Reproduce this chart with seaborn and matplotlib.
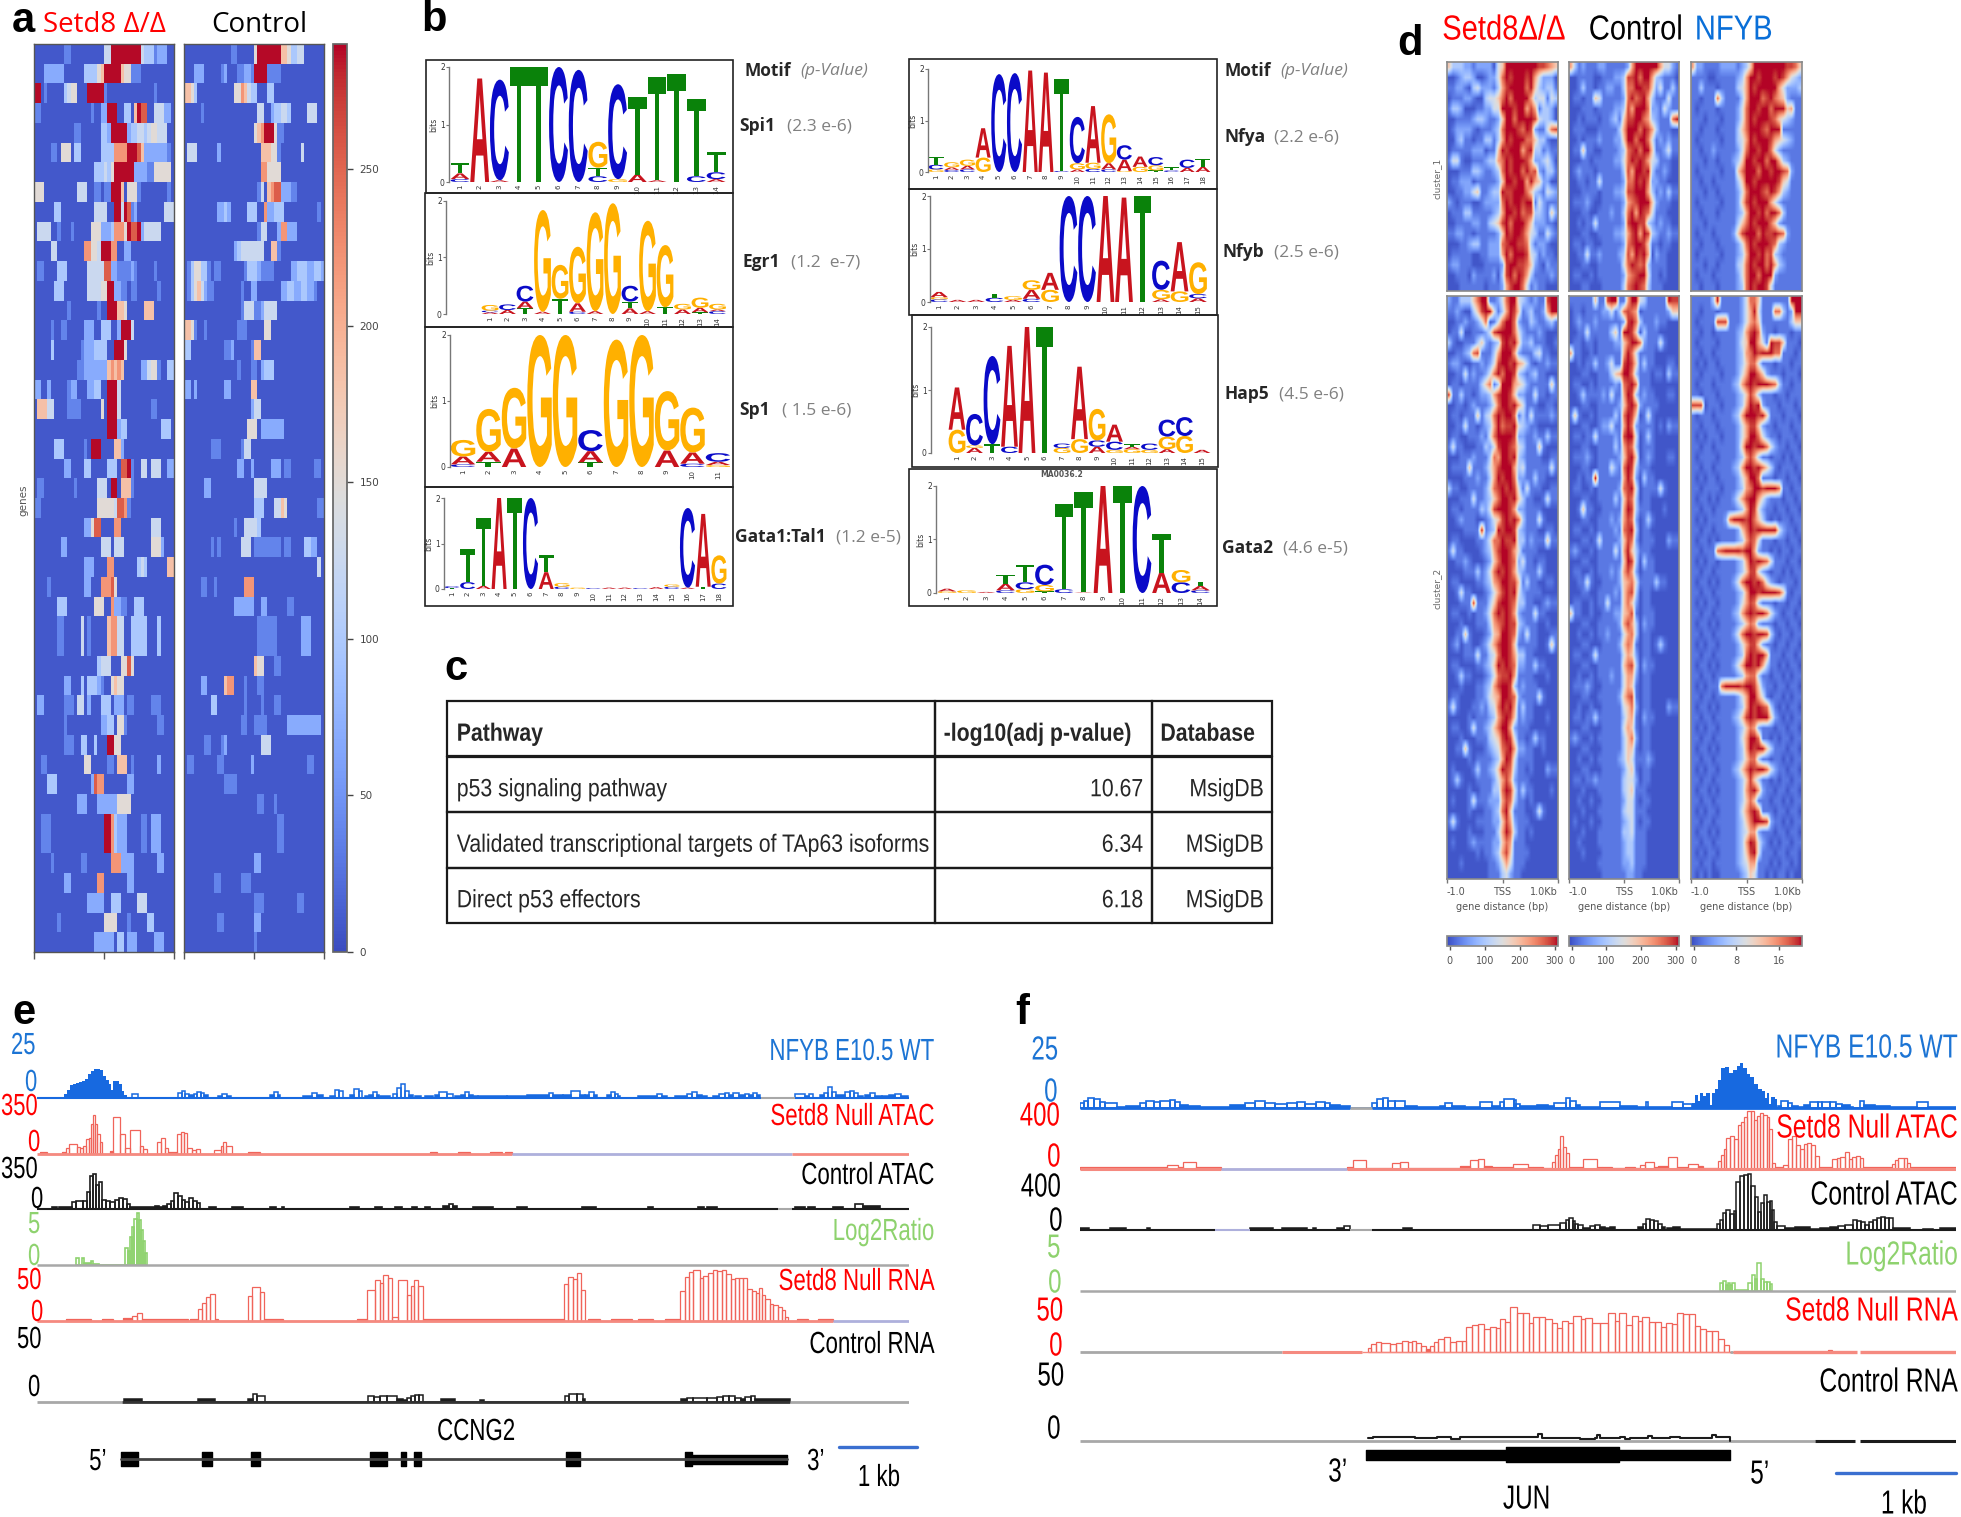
import numpy as np
import matplotlib
matplotlib.use("Agg")
import matplotlib.pyplot as plt
import seaborn as sns
from matplotlib.cm import ScalarMappable
from matplotlib.colors import Normalize
from matplotlib.font_manager import FontProperties
from matplotlib.patches import PathPatch, Rectangle
from matplotlib.patheffects import AbstractPathEffect
from matplotlib.textpath import TextPath
from matplotlib.transforms import Affine2D

# ---------- panel a: expression rows, one digit per bin (0 low .. 9 high)
setd8_rows = [
    "000000000110000000000449999999994333122200", "000222222000000333356999996551110000000000",
    "990100000345500099999100000000000000100000", "110000000000000001002299900330698800444220",
    "000000000000110000003329999923344345544400", "000001105550330000003333777799986222222210",
    "000000000000000000333435999999222211555550", "555000000000044400110119996055510000000010",
    "000000330000000000444400994981200000000444", "044440010001000005552223777598892444440000",
    "000004400000000775549997700220000000000000", "011000033300000044444882211112100000100000",
    "000000333000000044445599221101100000010000", "000000000010000000010099966500000666000000",
    "000001001100000222003330029994000000000000", "000003000000001222333300999500000000000000",
    "000000000000011222222267676000002245510033", "220020000012200022330099940000000000000000",
    "066644000011110000005099940000000001100000", "000000000000000000000099923300000000003330",
    "000000333000000109990000662000000000000000", "000000000220000330000033308891004404440022",
    "011000000000100000044409906661000000000000", "110000000000000000055555488710000000000000",
    "000000000000000225880000770000000004440000", "000000002200000000004440444000000005552000",
    "000000000000000222000077000000034300000066", "000010000000000220007778500000000000000000",
    "000000033300000000555007221100333000000000", "000000011000004010000067744003333300030000",
    "000000011000004010000067744003333300030000", "000000000000000000034440005585000000000000",
    "000000000220003033321005655000000000000000", "022000000111044020003330222011000001110000",
    "000000000100000000002233055100000000011000", "000000000111003300300099550000000000000000",
    "001100000000000550000011066601000000020000", "000033300000000002877000000022000000000000",
    "000000000000022200022222255550000000000000", "001110000000000000000997322200001102220000",
    "001110000000000000000997322200001102220000", "000001000000001100000007772222000000022000",
    "000000000220000000077000000022000000000000", "000000000000000022222003330000044400000000",
    "000000010000000000000555500010000033000000", "000000000000000000222222033022200000222000",
]
control_rows = [
    "000000000000001100000599999996653344000000", "000222000001200011221999911110000000000000",
    "665300000000000557643300033000000000000000", "000001000000000000000044002334430000044400",
    "000000000000000000000567999511000000000000", "044400000020000000000006665510000004000000",
    "000000000000000000000007755550000000000000", "000000000000000000000014067882221100000000",
    "000000000022320000033300722333000000000010", "000000000000000000000014400027722200000000",
    "000000000000000234444444006610000000000000", "013553310110000000133321111000002233322332",
    "013564211000000001002200000002233223322100", "000000000000000001444112444400000000000000",
    "665100100000000011100000550000000000000000", "330000000000112000001660000000000000000000",
    "000000000000000010001102333000000000000000", "220200000000220000006600000000000000000000",
    "000000000000000000002440000000000000000000", "000000000000000000055502222222000000000000",
    "000000001110000001440000000000000000000000", "000000000000000022002000002220110000000110",
    "000000220000000000000444400000000000000000", "000000000000000000000333000446500000000011",
    "000000000000000100444430000000000000000000", "000000001010000004440111111110110000332200",
    "000000000000000000000000000000000000000040", "000001100100000000777000000000000000000000",
    "000000000000000222222002200000011000000000", "000000000000000000000011111100000002220000",
    "000000000000000000000011111100000002220000", "000000000000000000000655000110000000000000",
    "000002200000677000100011000000000000000000", "000000003300000000100001000110000000000000",
    "000000000000000001100111100000022222222220", "000000110001200000000004440000000000000000",
    "011000000011000000002000000000000000011000", "000000000000111100000000000000000000000000",
    "000000000000000000000011000100000000000000", "000000000000000000000000000011000000000000",
    "000000000000000000000000000011000000000000", "000000000000000000000220000000000000000000",
    "000000000110000001110000000000000000000000", "000000000000000000000111000000000011000000",
    "000000000011000000000220000000000000000000", "000000000000000000000100000000000000000000",
]
level_values = [8, 38, 68, 98, 125, 150, 185, 220, 255, 288]
a_cbar_ticks = [0, 50, 100, 150, 200, 250]

# ---------- panel b: motif logos, each position is stacked bottom to top
spi1 = [[("C",.05),("A",.1),("T",.18)],[("A",1.8)],[("A",.03),("C",1.75)],[("T",2)],[("T",2)],[("C",2)],[("C",1.95)],
        [("C",.1),("T",.15),("G",.45)],[("G",.05),("C",1.65)],[("A",.13),("T",1.35)],[("A",.03),("T",1.8)],[("T",1.88)],
        [("C",.1),("T",1.35)],[("A",.05),("C",.12),("T",.35)]]
egr1 = [[("A",.03),("C",.03),("G",.1)],[("A",.07),("C",.1)],[("T",.1),("A",.12),("C",.28)],[("A",.04),("G",1.8)],
        [("T",.27),("G",.6)],[("C",.04),("A",.15),("G",1.0)],[("A",.05),("G",1.75)],[("G",1.96)],[("A",.1),("T",.12),("C",.28)],
        [("A",.05),("G",1.6)],[("T",.12),("G",1.1)],[("A",.08),("G",.1)],[("T",.03),("A",.08),("G",.18)],[("C",.05),("A",.03),("G",.1)]]
sp1 = [[("C",.04),("A",.12),("G",.25)],[("T",.08),("A",.15),("G",.65)],[("A",.28),("G",.92)],[("G",2)],[("G",2)],
       [("T",.07),("A",.17),("C",.32)],[("G",1.93)],[("G",2)],[("A",.25),("G",.9)],[("C",.05),("A",.17),("G",.68)],
       [("G",.03),("A",.05),("C",.13)]]
gata1_tal1 = [[("T",.02),("C",.04)],[("C",.15),("T",.72)],[("A",.07),("T",1.5)],[("A",2)],[("T",2)],[("C",2)],
              [("A",.37),("T",.38)],[("C",.05),("G",.08)],[("G",.03)],[("C",.02)],[("A",.03)],[("A",.03)],[("C",.02)],
              [("A",.04)],[("C",.05),("G",.05)],[("A",.03),("C",1.75)],[("T",.05),("A",1.6)],[("C",.12),("G",.62)]]
nfya = [[("G",.05),("C",.09),("T",.16)],[("C",.04),("A",.05),("G",.1)],[("C",.05),("A",.07),("G",.12)],[("G",.28),("A",.57)],
        [("C",1.9)],[("C",1.92)],[("A",1.97)],[("A",1.93)],[("C",.02),("T",1.78)],[("A",.05),("G",.12),("C",.9)],
        [("C",.06),("G",.12),("A",1.1)],[("C",.05),("A",.12),("G",.95)],[("G",.02),("A",.22),("C",.28)],[("G",.1),("A",.2)],
        [("T",.03),("G",.1),("C",.16)],[("C",.03),("T",.06)],[("A",.08),("C",.16)],[("A",.1),("T",.16)]]
nfyb = [[("C",.05),("G",.04),("A",.1)],[("A",.04)],[("A",.04)],[("C",.08),("T",.08)],[("A",.04),("G",.07)],
        [("C",.06),("A",.17),("G",.18)],[("G",.23),("A",.32)],[("C",2)],[("C",2)],[("A",2)],[("A",1.97)],[("T",2)],
        [("A",.05),("G",.18),("C",.55)],[("G",.2),("A",.93)],[("A",.07),("C",.08),("G",.6)]]
hap5 = [[("G",.37),("A",.67)],[("A",.08),("G",.04),("C",.5)],[("T",.14),("C",1.4)],[("C",.1),("A",1.6)],[("A",2)],[("T",2)],
        [("G",.08),("C",.07)],[("G",.22),("A",1.15)],[("A",.1),("C",.1),("G",.5)],[("G",.05),("C",.13),("A",.27)],
        [("G",.06),("A",.04),("T",.04)],[("G",.05),("C",.1)],[("A",.06),("G",.2),("C",.27)],[("G",.27),("C",.3)],[("A",.05)]]
gata2 = [[("G",.03),("A",.05)],[("G",.05)],[("A",.02)],[("C",.05),("A",.12),("T",.17)],[("G",.07),("C",.13),("T",.33)],
         [("T",.03),("G",.12),("C",.38)],[("C",.07),("T",1.6)],[("A",.01),("T",1.88)],[("A",2)],[("T",2)],[("C",2)],
         [("A",.38),("T",.72)],[("C",.2),("G",.23)],[("C",.05),("A",.08),("T",.08)]]
motif_names = ["Spi1", "Egr1", "Sp1", "Gata1:Tal1", "Nfya", "Nfyb", "Hap5", "Gata2"]
motif_pvals = ["(2.3 e-6)", "(1.2  e-7)", "( 1.5 e-6)", "(1.2 e-5)", "(2.2 e-6)", "(2.5 e-6)", "(4.5 e-6)", "(4.6 e-5)"]

# ---------- panel c
table_header = ["Pathway", "-log10(adj p-value)", "Database"]
table_pathways = ["p53 signaling pathway", "Validated transcriptional targets of TAp63 isoforms", "Direct p53 effectors"]
table_scores = ["10.67", "6.34", "6.18"]
table_dbs = ["MsigDB", "MSigDB", "MSigDB"]

# ---------- panel d: TSS signal rows, one digit per bin (0 low .. 9 high)
d_setd8 = [
    "533322122220459999999988765", "001233200122479899989642220", "112210342221368999979532331", "011122100344579799996344143",
    "133200011224499989968613320", "001111233211259979999843320", "012222101112379998798211478", "002311011331369899977533100",
    "011111222011598999689331211", "144100111233679899986223420", "000111332112379899797821331", "011222011111259989969652200",
    "001122451123398899975321432", "210111001222279899899142111", "011133111112369989788332152", "001111221134589799975222110",
    "112211011111259899864311421", "000112331122278998873122100", "011111001122269799984312110", "122111000111128998875210211",
    "001110211112038979863111121", "000111111011126899741211000",
]
d_setd8_lower = [
    "211333579911247994321211899", "112100358994136985123112699", "001121124701479972113211231", "011400111248999974211121000",
    "310011135212389895223111001", "001123781113699962111341100", "122100112124899896531011211", "001141211247979983212311000",
    "011011113571399965421111151", "811311012236899852211411011", "001101211124799896411100110", "011011151347989971314111121",
    "001141101236978894321100000", "011001112147999982211211311", "141100011324899874311151000", "000111211137699893211110011",
    "011115111246899963411111141", "000011121136989972211311000", "311001111247898984141110011", "000111411235799895311001411",
    "011011113248999862211110000", "001211100124589897311141000", "000011119123989983211100110", "011000011247798893312111511",
    "141100001236899864111100000", "001121000125799872411011000", "000011131247989863211131000", "011000011236799885131100110",
    "001411000124689894211110000", "000111811135899873311001211", "011001011247989862111411000", "000100011136789883211100100",
    "001151000125699872141100011", "012011001246899851111100151", "000011141134799863311000000", "011000011235989872211311000",
    "001311000124788961111000100", "000100011236899831211100000", "011000011245699872111141000", "141000112134798961311000000",
    "000001011123689851211000100", "011001411235799621110000000", "000100011134589841101311000", "001151000123478962211001000",
    "000001011112369841111000000", "010000131123598731101000211", "013100011112468621110000000", "000001001113379841311000010",
    "010001411122268731101000000", "000001000112379511100141000", "141000011112258621110000000", "000001000111369731101000000",
    "010001211112257611100000000", "000000010112368511110000000", "000100000011246411100000000", "000000000011134211000000000",
]
d_control = [
    "631211122111112699999964421", "001111001112238897996321110", "001311011221137799885241131", "011011541111127978963111411",
    "000111011112238699972214211", "001011101123158899763211179", "011100011111369997986311100", "001011121112259979974121211",
    "011511001111237897995112411", "000110111112247989864311100", "012111011111138699893112100", "001101141111127798972211000",
    "000111101112238899963121311", "011121001111126789995211100", "000110011121137969874111000", "001011411111128998832121100",
    "000110011112236896983211211", "011011001111127899851101100", "001141121111238698960211000", "000110011111147987831111000",
    "011001011111126789941101000", "000110001111137898731110000",
]
d_control_lower = [
    "111111511899116994311111988", "011011112241378760111111255", "012111211111128973111211000", "001141111135199850311100000",
    "011011011112257997211141000", "611001011111169741111000000", "001011311241189851311000110", "000110011135699731110110311",
    "011001011112178971110000000", "001311112141169831211000110", "000110011111258972111100000", "151001011113179850141000000",
    "000110012241169721111010211", "011011411112189940131000000", "000110011113168730111000000", "011121011111258950121000110",
    "000110011142179831110000000", "001011911111169720311000000", "011001011111278940111141000", "000110011113158730110000000",
    "001511001111169831110001000", "000110011121268720131000000", "011001011112178930110000000", "000110141111258720111000211",
    "121001011114169531110000000", "000110011111159830311000000", "011001011121268620111000000", "001141001111256741111311000",
    "000110011112157830110000000", "011001011411157520110000000", "511001001112256810111000000", "000110011111268630211000000",
    "001001011211146730110000000", "000110001111257610110131000", "011001411111146520110000000", "000110011111157830211000000",
    "001001011121146620110000000", "011121001111146510110000000", "000110011111257810110000000", "001001001111145720110000211",
    "011011311111135610211000000", "000110001111146510110000000", "121001011111135720110000000", "000110001111135510110000000",
    "001001011111235411121000000", "000110001111124510110000000", "011011211111134420110000000", "000100011111134511100000000",
    "001001001111124410110000000", "000100011111134411100000000", "010001001111123410110000000", "000100011111133411100000000",
    "001000011111123311100000000", "000100001111123311100000000", "000000011111122311100000000", "000000001111112211000000000",
]
d_nfyb = [
    "622111122221235999999998875", "111100111112369989998986432", "113111011113469899999642223", "110111731111369997897652111",
    "101111011112479989979995611", "111011101112479899987543211", "110111011113579998799911111", "101111101113469899986543211",
    "110112111112479989974211111", "111011011123599899799632111", "101111101115799979989987211", "110110111113599899999854111",
    "111011011112479998798632111", "101111101112589899964211111", "110111011112369989799731111", "111011111113579899975211111",
    "101110111125899979889872111", "110111011112479899987321111", "101111101112369989783211111", "111011011113479899796321111",
    "101110111112479979992111111", "110111011112379899841111111",
]
d_nfyb_lower = [
    "111113911111247751111111999", "110111011111246941117731299", "101111888111246751111111355", "110110111112368972110111011",
    "101111011112459964198851110", "110110111112367989997711101", "101011011112357741110111011", "110111101112469975211101110",
    "101110111123689899987311011", "110111011112358631110110111", "888011101112369892111011101", "101110111123699989511101110",
    "110111011112468852110111011", "101011101112469974211011101", "110110111112599899742110110", "101111011112368631101101011",
    "110110111123699897531011101", "101011011112469971110110110", "110111101112367998999711011", "101101011124689964211101101",
    "110110111112369842110110110", "101011112799989753101011011", "110110111112579899999421101", "101101011112368741110110110",
    "110111789999899621101011011", "101011011112369898741110110", "110110111112358842101101011", "101101011124799897421011101",
    "110110111112369989999851011", "101011011112468731110110110", "110110111123689899742101101", "101101011112357621110110110",
    "110110111124799899831011011", "101011011112468852110110110", "110110111112379899611101101", "101101011124699896311010110",
    "110110111112367731101101011", "101011179999899852110110110", "110110111112469964101101011", "101101011112369898731010110",
    "110110111123589899952101011", "101011011112357621110110110", "110110111112469971101011011", "101101011112369899531110110",
    "110110111112357731101101011", "101011011123579899742110110", "110110111112358531101011011", "101101011112368962110110110",
    "110110111112357511101101011", "101011011112468971110110110", "110110111112357999821101011", "101101011112346621110110110",
    "110110111112369842101011011", "101011011112358941110110110", "110110111112346611101011010", "101010011111235411010110100",
]
d_levels = [0.0, 0.08, 0.2, 0.33, 0.45, 0.6, 0.72, 0.84, 0.93, 1.0]
d_titles = ["Setd8\u0394/\u0394", "Control", "NFYB"]

# ---------- panel e: browser tracks, (bin, height) steps; height 0 closes a block
e_nfyb_peak = [(27,4),(30,8),(33,13),(36,14),(39,15),(42,16),(45,17),(48,19),(51,24),(54,27),(57,29),(60,29),(63,28),(66,22),
               (69,18),(72,14),(74,8),(76,17),(79,17),(82,14),(85,7),(87,3),(90,0)]
e_nfyb = [(95,4),(101,0),(141,5),(145,7),(148,4),(152,3),(157,4),(160,6),(164,5),(167,3),(171,0),(181,2),(185,4),(190,2),(194,0),
          (233,3),(237,6),(241,3),(243,0),(266,2),(275,5),(280,3),(286,0),(293,2),(298,8),(302,7),(306,0),(313,3),(317,9),(322,7),
          (325,0),(328,2),(332,3),(336,6),(340,3),(342,0),(343,2),(353,0),(356,4),(360,10),(364,14),(368,7),(372,3),(376,0),(378,2),
          (384,0),(388,2),(396,0),(398,3),(402,6),(410,4),(416,0),(418,2),(424,3),(428,6),(432,3),(436,2),(441,2),(470,2),(490,3),
          (512,5),(516,3),(526,3),(534,7),(543,3),(548,3),(552,6),(557,3),(560,0),(570,3),(574,6),(578,4),(581,2),(583,0),(601,2),
          (620,4),(625,2),(630,0),(638,2),(650,4),(655,6),(660,3),(665,2),(670,0),(676,2),(682,4),(688,5),(692,3),(696,5),(702,3),
          (708,4),(712,3),(716,5),(720,3),(723,0),(758,4),(768,2),(772,4),(776,0),(783,3),(787,5),(791,11),(795,6),(799,3),(808,6),
          (813,7),(817,5),(821,2),(826,0),(828,3),(833,5),(838,2),(845,2),(852,3),(858,4),(864,2),(871,0)]
e_atac = [(3,2),(10,0),(25,2),(29,6),(32,10),(40,7),(43,6),(46,8),(49,15),(52,16),(54,30),(56,39),(58,30),(60,20),(63,12),(65,0),
          (73,3),(76,37),(83,20),(88,6),(93,24),(103,8),(106,5),(110,0),(120,12),(124,16),(128,6),(131,2),(140,20),(144,22),(147,21),
          (150,6),(155,4),(159,5),(163,0),(177,4),(184,8),(186,12),(189,8),(195,0),(211,2),(223,0),(393,2),(400,0),(421,2),(433,0),
          (453,2),(465,0),(468,2),(475,0)]
e_ctrl_atac = [(15,2),(20,0),(22,2),(35,7),(39,8),(46,8),(50,17),(53,33),(56,35),(59,24),(62,27),(65,9),(69,8),(73,7),(78,9),(82,11),
               (86,10),(90,5),(93,2),(118,3),(122,2),(126,3),(130,5),(134,8),(137,16),(141,13),(145,9),(148,7),(152,11),(156,8),(160,6),
               (163,0),(172,2),(179,0),(195,2),(206,0),(233,2),(239,0),(245,2),(247,0),(313,2),(322,0),(338,2),(345,0),(358,2),(365,0),
               (375,2),(380,0),(388,2),(393,0),(406,3),(412,5),(416,3),(420,0),(436,2),(456,0),(480,2),(490,0),(545,2),(559,0),(611,2),
               (616,0),(661,2),(667,0),(670,2),(680,0),(758,2),(768,0),(771,2),(778,0),(796,2),(806,0),(818,5),(826,3),(843,0)]
e_log2 = [(39,7),(42,0),(45,7),(47,2),(54,4),(56,1),(62,0),(88,17),(91,14),(93,28),(95,38),(97,46),(100,52),(102,45),(104,35),
          (106,24),(108,12),(110,0)]
e_rna = [(29,2),(54,0),(65,2),(76,0),(86,3),(95,5),(100,8),(105,2),(151,0),(153,2),(161,12),(165,18),(169,24),(173,27),(178,2),(181,0),
         (211,25),(215,34),(223,29),(227,2),(246,0),(320,2),(330,31),(338,41),(343,38),(346,46),(351,43),(355,4),(361,41),(370,26),(374,35),
         (377,41),(381,35),(386,2),(463,2),(480,2),(527,37),(531,44),(536,42),(540,48),(544,31),(548,0),(551,2),(563,0),(574,2),(595,0),
         (601,2),(616,0),(628,2),(643,30),(648,44),(652,49),(656,51),(663,43),(666,45),(671,48),(676,51),(680,50),(685,51),(689,47),(694,42),
         (698,43),(702,43),(706,43),(710,32),(715,30),(719,28),(722,33),(725,26),(728,22),(733,17),(736,16),(741,14),(745,11),(748,4),
         (751,0),(760,2),(771,0),(781,2),(796,0)]
e_ctrl_rna = [(87,3),(105,0),(161,3),(178,0),(211,3),(216,8),(220,6),(228,0),(331,6),(337,5),(343,6),(350,6),(360,3),(366,2),(370,4),
              (374,6),(378,7),(382,7),(386,0),(404,3),(418,0),(443,2),(447,0),(528,6),(532,8),(540,8),(546,3),(548,0),(644,3),(650,4),
              (656,4),(670,4),(680,5),(686,6),(692,6),(698,4),(704,3),(708,5),(714,6),(718,3),(753,0)]
e_exon_start = [84, 165, 214, 333, 364, 377, 529, 648]
e_exon_end = [101, 175, 223, 350, 369, 384, 543, 655]
e_utr = (655, 750)
e_scale_names = ["25", "0", "350", "0", "350", "0", "5", "0", "50", "0", "50", "0"]
f_scale_names = ["25", "0", "400", "0", "400", "0", "5", "0", "50", "0", "50", "0"]
track_names = ["NFYB E10.5 WT", "Setd8 Null ATAC", "Control ATAC", "Log2Ratio", "Setd8 Null RNA", "Control RNA"]

# ---------- panel f
f_nfyb_peak = [(612,5),(615,13),(618,7),(620,15),(623,12),(626,15),(630,3),(632,15),(635,19),(638,28),(641,40),(645,41),(649,35),(653,38),
               (657,42),(660,45),(663,40),(667,34),(670,31),(674,24),(678,19),(682,17),(685,10),(687,15),(689,4),(691,11),(695,9),(697,0)]
f_nfyb = [(0,5),(4,7),(8,10),(14,9),(20,6),(25,5),(37,1),(46,2),(60,5),(66,7),(74,6),(80,7),(90,8),(95,6),(100,3),(108,2),(120,1),(150,3),
          (165,5),(175,7),(185,5),(195,4),(207,5),(217,6),(225,4),(236,6),(245,5),(250,3),(260,2),(270,0),(292,5),(297,9),(303,10),(308,7),
          (315,7),(325,2),(337,1),(360,2),(365,5),(372,2),(385,1),(400,6),(412,2),(420,6),(424,9),(434,8),(436,4),(440,2),(457,3),(468,2),
          (474,5),(486,10),(490,7),(496,3),(500,1),(520,6),(540,2),(557,1),(566,6),(568,1),(592,6),(603,4),(612,0),(698,2),(701,7),(708,5),
          (712,2),(718,1),(724,3),(730,6),(738,6),(742,6),(750,6),(756,4),(762,3),(770,1),(773,0),(780,7),(784,3),(795,2),(810,1),(837,6),
          (848,1),(876,0)]
f_atac = [(0,2),(87,4),(98,2),(103,7),(116,2),(141,0),(267,2),(273,9),(286,1),(312,6),(320,7),(328,1),(380,3),(390,9),(398,10),(404,3),(412,2),
          (433,5),(448,2),(453,2),(463,1),(472,7),(475,14),(478,20),(480,33),(483,22),(486,16),(489,2),(503,10),(517,2),(522,2),(532,1),(545,2),
          (555,1),(560,4),(565,7),(574,2),(578,3),(588,12),(597,2),(608,5),(618,3),(623,1),(638,8),(641,14),(644,20),(646,31),(650,33),(654,30),
          (658,44),(661,47),(664,52),(667,58),(671,58),(674,49),(677,53),(680,56),(683,54),(687,52),(689,40),(692,6),(695,2),(703,4),(708,30),
          (712,33),(716,24),(720,20),(724,25),(727,26),(731,24),(735,13),(739,2),(752,10),(757,11),(760,12),(765,17),(769,10),(772,12),(776,13),
          (780,11),(783,2),(812,5),(815,9),(818,11),(824,11),(827,6),(830,2),(876,0)]
f_ctrl_atac = [(0,2),(9,0),(30,2),(46,0),(67,2),(70,0),(170,2),(193,0),(202,2),(227,0),(233,2),(236,0),(257,2),(264,4),(270,0),(323,2),(332,0),
               (380,0),(453,5),(460,4),(468,5),(480,7),(486,10),(489,12),(493,9),(495,6),(498,5),(503,2),(510,4),(515,5),(520,3),(525,2),(530,3),
               (535,0),(558,3),(563,6),(566,11),(570,10),(574,9),(578,6),(582,3),(585,0),(587,2),(593,3),(600,1),(637,6),(640,10),(643,17),(646,20),
               (650,16),(654,19),(656,48),(660,54),(664,55),(668,56),(671,44),(675,33),(678,18),(681,27),(684,35),(687,28),(690,29),(692,20),(694,8),
               (697,4),(705,2),(715,3),(730,1),(740,2),(750,3),(758,4),(765,5),(773,10),(777,9),(781,8),(785,5),(789,8),(793,10),(797,12),(801,13),
               (805,12),(809,12),(813,2),(830,0),(843,1),(853,0),(860,2),(877,0)]
f_log2 = [(640,8),(643,10),(646,6),(648,8),(650,6),(652,8),(655,1),(668,8),(672,16),(675,12),(677,28),(681,12),(684,9),(687,9),(690,7),(692,0)]
f_rna = [(288,4),(291,8),(296,10),(301,9),(310,8),(316,9),(322,11),(328,10),(332,11),(336,9),(341,6),(346,3),(350,6),(354,10),(358,13),(364,15),
         (370,10),(376,11),(382,11),(386,25),(392,27),(398,28),(404,23),(410,25),(416,24),(420,33),(425,30),(430,45),(437,39),(443,39),(449,29),
         (453,35),(459,35),(465,33),(472,29),(477,24),(482,31),(488,29),(493,36),(501,33),(505,34),(512,29),(520,29),(528,39),(535,31),(539,39),
         (546,27),(552,36),(558,31),(562,35),(569,30),(575,30),(581,25),(586,29),(592,28),(597,39),(603,38),(609,38),(615,26),(620,23),(626,21),
         (632,21),(638,13),(644,7),(649,0),(748,2),(752,0)]
f_ctrl_rna = [(288,3),(293,4),(335,3),(357,4),(371,2),(380,4),(457,4),(458,7),(462,3),(500,2),(515,3),(517,6),(520,3),(540,4),(545,2),(550,3),
              (562,3),(568,5),(572,3),(590,4),(600,3),(625,3),(632,6),(636,4),(650,0)]
f_cds = (286, 650)
f_utr = (426, 539)

sns.set_theme(style="white")
plt.rcParams["font.family"] = ["Open Sans", "DejaVu Sans"]
SANS = ["Liberation Sans", "DejaVu Sans"]

W, H = 1961, 1517
fig = plt.figure(figsize=(W / 100, H / 100), dpi=100, facecolor="white")


def px_axes(x0, y0, x1, y1):
    # axes from reference pixel box
    return fig.add_axes([x0 / W, 1 - y1 / H, (x1 - x0) / W, (y1 - y0) / H])


class Squeeze(AbstractPathEffect):
    # no condensed font is installed, so narrow the glyphs when they are drawn
    def __init__(self, sx, anchor=0.0, dy=0.0):
        super().__init__()
        self.sx, self.anchor, self.dy = sx, anchor, dy

    def draw_path(self, renderer, gc, tpath, affine, rgbFace=None):
        shift = (1 - self.sx) * self.anchor * tpath.get_extents().x1
        a = Affine2D().scale(self.sx, 1).translate(shift, 0) + affine + Affine2D().translate(0, self.dy)
        renderer.draw_path(gc, tpath, a, rgbFace)


page = px_axes(0, 0, W, H)
page.set_xlim(0, W)
page.set_ylim(H, 0)
page.axis("off")
page.set_zorder(10)
page.patch.set_alpha(0)


def ntext(x, y, s, size, color="black", ha="center", sx=0.73):
    t = page.text(x, y, s, color=color, fontsize=size, family=SANS, ha=ha, va="center")
    t.set_path_effects([Squeeze(sx, {"left": 0, "center": 0.5, "right": 1}[ha])])
    return t


for label, x, y in [("a", 12, 21), ("b", 421, 20), ("c", 444, 669), ("d", 1397, 44), ("e", 12, 1013), ("f", 1015, 1013)]:
    page.text(x, y, label, fontsize=30, fontweight="bold", family="Liberation Sans", va="center", color="black")

# ---------- panel a
def to_matrix(rows, width):
    return np.array([[level_values[int(c)] for c in r.ljust(width, "0")[:width]] for r in rows])


a_boxes = [(34, 174, setd8_rows), (184, 324, control_rows)]
for x0, x1, rows in a_boxes:
    ax = px_axes(x0, 44, x1, 952)
    sns.heatmap(to_matrix(rows, 42), cmap="coolwarm", vmin=0, vmax=290, cbar=False, ax=ax,
                xticklabels=False, yticklabels=False)
    for s in ax.spines.values():
        s.set_visible(True)
        s.set_color("#555555")
        s.set_linewidth(1)
    ax.set_xticks([0, 21, 42])
    ax.tick_params(axis="x", length=5, width=1, color="#555555", bottom=True, labelbottom=False)
cax = px_axes(333, 44, 347, 952)
cb = fig.colorbar(ScalarMappable(Normalize(0, 290), "coolwarm"), cax=cax)
cb.set_ticks(a_cbar_ticks)
cb.ax.tick_params(labelsize=7.5, length=4, width=1, colors="#444444", pad=5)
for lab in cb.ax.get_yticklabels():
    lab.set_family("DejaVu Sans")
cb.outline.set_edgecolor("#666666")
page.text(104, 25, "Setd8 \u0394/\u0394", color="red", fontsize=20, ha="center", va="center")
page.text(259, 25, "Control", color="black", fontsize=20, ha="center", va="center")
page.text(23, 500, "genes", rotation=90, color="#555555", fontsize=7.5, family="DejaVu Sans", ha="center", va="center")

# ---------- panel b
LETTER_COLORS = {"A": "#c8141e", "C": "#0a0ac8", "G": "#ffb000", "T": "#0a820a"}
logo_font = FontProperties(family="Liberation Sans", weight="bold")


def draw_logo(ax, positions):
    for i, stack in enumerate(positions, start=1):
        bottom = 0
        for letter, height in stack:
            tp = TextPath((0, 0), letter, size=1, prop=logo_font)
            bb = tp.get_extents()
            tr = Affine2D().translate(-bb.x0, -bb.y0).scale(0.96 / bb.width, height / bb.height).translate(i - 0.48, bottom)
            ax.add_patch(PathPatch(tp, transform=tr + ax.transData, color=LETTER_COLORS[letter], lw=0))
            bottom += height


# box, y2 row, y0 row, axis x, first position x, position spacing
logo_layout = [
    (spi1, (426, 60, 733, 193), 67, 182, 449, 460, 19.7),
    (egr1, (425, 193, 733, 327), 201, 314, 446, 490, 17.5),
    (sp1, (425, 327, 733, 487), 335, 467, 450, 463, 25.5),
    (gata1_tal1, (425, 487, 733, 606), 498, 589, 444, 452, 15.7),
    (nfya, (909, 59, 1217, 189), 69, 172, 928, 936, 15.7),
    (nfyb, (909, 189, 1217, 315), 196, 302, 930, 939, 18.5),
    (hap5, (912, 315, 1218, 467), 327, 453, 931, 957, 17.5),
    (gata2, (909, 469, 1217, 606), 486, 593, 936, 947, 19.5),
]
for motif, (bx0, by0, bx1, by1), y2, y0, ax_x, first, step in logo_layout:
    page.add_patch(Rectangle((bx0, by0), bx1 - bx0, by1 - by0, fill=False, edgecolor="#222222", lw=1.2))
    ax = px_axes(ax_x, y2, bx1 - 3, y0)
    ax.patch.set_alpha(0)
    ax.set_xlim(1 - (first - ax_x) / step, 1 + (bx1 - 3 - first) / step)
    ax.set_ylim(0, 2)
    draw_logo(ax, motif)
    sns.despine(ax=ax, bottom=True)
    ax.spines["left"].set_color("#777777")
    ax.spines["left"].set_linewidth(1)
    ax.set_yticks([0, 1, 2])
    ax.set_xticks(range(1, len(motif) + 1))
    ax.set_xticklabels(range(1, len(motif) + 1), rotation=90, family="DejaVu Sans", fontsize=5, color="#333333")
    ax.tick_params(axis="x", length=0, pad=2)
    ax.tick_params(axis="y", length=2, width=0.8, color="#777777", left=True, labelsize=5.5, pad=1, labelcolor="#333333")
    for lab in ax.get_yticklabels():
        lab.set_family("DejaVu Sans")
    ax.set_ylabel("bits", fontsize=5.5, family="DejaVu Sans", color="#333333", labelpad=1)

page.text(1062, 474, "MA0036.2", fontsize=5.5, fontweight="bold", color="#555555", family="DejaVu Sans", ha="center", va="center")
label_xy = [(739, 126, 787), (742, 262, 791), (739, 410, 782), (735, 537, 836),
            (1224, 137, 1274), (1222, 252, 1274), (1224, 394, 1279), (1222, 548, 1283)]
for name, pval, (x, y, xp) in zip(motif_names, motif_pvals, label_xy):
    page.text(x, y, name, fontsize=12.5, fontweight="bold", va="center")
    page.text(xp, y, pval, fontsize=12.5, color="#808080", va="center")
for x, xp in [(744, 800), (1224, 1280)]:
    page.text(x, 71, "Motif", fontsize=12.5, fontweight="bold", va="center")
    page.text(xp, 71, "(p-Value)", fontsize=12.5, color="#808080", style="italic", va="center")

# ---------- panel c
ax = px_axes(447, 701, 1272, 923)
ax.axis("off")
cells = [[p, s, d] for p, s, d in zip(table_pathways, table_scores, table_dbs)]
tbl = ax.table(cellText=cells, colLabels=table_header, colWidths=[488 / 825, 217 / 825, 120 / 825], bbox=[0, 0, 1, 1])
tbl.auto_set_font_size(False)
for (r, c), cell in tbl.get_celld().items():
    cell.set_linewidth(1.6)
    cell.set_facecolor("none")
    cell.PAD = [0.02, 0.04, 0.07][c]
    txt = cell.get_text()
    txt.set_family(SANS)
    txt.set_fontsize(18)
    if r == 0:
        txt.set_fontweight("bold")
    left = r == 0 or c == 0
    txt.set_ha("left" if left else "right")
    txt.set_path_effects([Squeeze(0.85, 0 if left else 1, dy=-5)])

# ---------- panel d
d_panels = [
    (1447, 1558, d_setd8, d_setd8_lower, 310, -8, [0, 100, 200, 300]),
    (1569, 1679, d_control, d_control_lower, 310, -8, [0, 100, 200, 300]),
    (1691, 1802, d_nfyb, d_nfyb_lower, 20.3, -0.5, [0, 8, 16]),
]
title_x = [1504, 1636, 1734]
title_col = ["red", "black", "#0a6fd8"]
for i, (x0, x1, upper, lower, vmax, vmin, ticks) in enumerate(d_panels):
    for rows, y0, y1 in [(upper, 62, 291), (lower, 296, 879)]:
        mat = np.array([[d_levels[int(c)] * vmax for c in r] for r in rows])
        ax = px_axes(x0, y0, x1, y1)
        ax.imshow(mat, aspect="auto", cmap="coolwarm", vmin=vmin, vmax=vmax, interpolation="bilinear",
                  extent=(-1, 1, len(rows), 0))
        for s in ax.spines.values():
            s.set_visible(True)
            s.set_color("#8a8a8a")
            s.set_linewidth(1.2)
        ax.set_yticks([])
        ax.set_xticks([])
    ax.set_xticks([-1, 0, 1])
    ax.set_xticklabels(["-1.0", "TSS", "1.0Kb"], fontsize=7, family="DejaVu Sans", color="#555555")
    ax.get_xticklabels()[0].set_ha("left")
    ax.get_xticklabels()[2].set_ha("right")
    ax.tick_params(axis="x", length=3, width=1, color="#777777", bottom=True, pad=3)
    ax.set_xlabel("gene distance (bp)", fontsize=7, family="DejaVu Sans", color="#555555", labelpad=3)
    cax = px_axes(x0, 936, x1, 946)
    cb = fig.colorbar(ScalarMappable(Normalize(vmin, vmax), "coolwarm"), cax=cax, orientation="horizontal")
    cb.set_ticks(ticks)
    cb.ax.tick_params(labelsize=7, length=3, width=1, colors="#555555", pad=4)
    for lab in cb.ax.get_xticklabels():
        lab.set_family("DejaVu Sans")
    cb.outline.set_edgecolor("#8a8a8a")
    ntext(title_x[i], 30, d_titles[i], 25, color=title_col[i], sx=0.84)
page.text(1437, 178, "cluster_1", rotation=90, fontsize=6.5, color="#666666", family="DejaVu Sans", ha="center", va="center")
page.text(1437, 588, "cluster_2", rotation=90, fontsize=6.5, color="#666666", family="DejaVu Sans", ha="center", va="center")

# ---------- panels e, f
BLUE = "#1769e0"
RED = "#f0645a"
RED_BASE = "#f58a80"
DARK = "#1c1c1c"
GREEN = "#8ed26e"
GRAY = "#a8a8a8"
PALE = "#aeb0dc"


def draw_track(x0, x1, base_y, span, steps, color, base, peak=None, lw=0.9, line=False):
    ax = px_axes(x0, base_y - 62, x1, base_y + 3)
    ax.patch.set_alpha(0)
    ax.axis("off")
    ax.set_xlim(0, span)
    ax.set_ylim(-3, 62)
    for s, e, c, blw in base:
        ax.plot([s, e], [0, 0], color=c, lw=blw, solid_capstyle="butt")
    if peak:
        px, ph = zip(*peak)
        ax.bar(px[:-1], ph[:-1], width=np.diff(px), align="edge", color=color, linewidth=0)
    if steps and line:
        sx, sh = zip(*steps)
        sns.lineplot(x=list(sx), y=list(sh), ax=ax, color=color, lw=1.5, drawstyle="steps-post", errorbar=None, legend=False)
        ax.set_xlabel("")
        ax.set_ylabel("")
    elif steps:
        sx, sh = (np.array(v) for v in zip(*steps))
        widths = np.diff(sx)
        ax.bar(sx[:-1], sh[:-1], width=widths, align="edge", fill=False, edgecolor=color, linewidth=lw)
        # the low blocks read as solid in the browser view
        low = sh[:-1] <= 3
        ax.bar(sx[:-1][low], sh[:-1][low], width=widths[low], align="edge", color=color, linewidth=0)


# panel e
ex0, ex1, espan = 37, 909, 872
draw_track(ex0, ex1, 1098, espan, e_nfyb, BLUE, [(0, 724, BLUE, 1.5), (724, 758, GRAY, 1.5), (758, 872, BLUE, 1.5)], e_nfyb_peak, lw=1.1)
draw_track(ex0, ex1, 1154, espan, e_atac, RED, [(0, 475, RED_BASE, 2), (475, 755, PALE, 2), (755, 872, RED_BASE, 2)])
draw_track(ex0, ex1, 1209, espan, e_ctrl_atac, DARK, [(0, 741, DARK, 1.5), (741, 755, GRAY, 1.5), (755, 872, DARK, 1.5)], lw=1.2)
draw_track(ex0, ex1, 1265, espan, e_log2, GREEN, [(0, 872, GRAY, 1.8)], lw=1.2)
draw_track(ex0, ex1, 1321, espan, e_rna, RED, [(0, 796, RED_BASE, 2), (796, 872, PALE, 2)])
draw_track(ex0, ex1, 1402, espan, e_ctrl_rna, DARK, [(0, 85, GRAY, 2), (85, 753, "#333333", 2), (753, 872, GRAY, 2)], lw=1.1)

e_name_y = [1052, 1117, 1176, 1232, 1282, 1345]
name_col = ["#1c74d4", "red", "black", GREEN, "red", "black"]
for name, y, c in zip(track_names, e_name_y, name_col):
    ntext(934, y, name, 22, color=c, ha="right")
# left-anchored so the label box stays on the canvas
e_scale_xy = [(11, 1046), (25, 1083), (1, 1107), (28, 1143), (1, 1170), (31, 1200),
              (28, 1225), (28, 1257), (17, 1281), (31, 1313), (17, 1340), (28, 1388)]
scale_col = ["#1c74d4", "#1c74d4", "red", "red", "black", "black", GREEN, GREEN, "red", "red", "black", "black"]
for t, (x, y), c in zip(e_scale_names, e_scale_xy, scale_col):
    ntext(x, y, t, 22, color=c, ha="left", sx=0.72)

ax = px_axes(ex0, 1449, ex1, 1469)
ax.axis("off")
ax.set_xlim(0, espan)
ax.set_ylim(-10, 10)
ax.plot([84, 750], [0, 0], color="#444444", lw=2)
ax.broken_barh([(s, e - s) for s, e in zip(e_exon_start, e_exon_end)], (-7, 14), color="black")
ax.broken_barh([(e_utr[0], e_utr[1] - e_utr[0])], (-4.5, 9), color="black")
ntext(476, 1432, "CCNG2", 22)
ntext(98, 1462, "5\u2019", 22)
ntext(816, 1462, "3\u2019", 22)
page.plot([839, 917], [1447, 1447], color="#3a6fd0", lw=2.4)
ntext(879, 1478, "1 kb", 22)

# panel f
fx0, fx1, fspan = 1080, 1956, 876
draw_track(fx0, fx1, 1108, fspan, f_nfyb, BLUE, [(0, 270, BLUE, 2), (270, 292, GRAY, 2), (292, 876, BLUE, 2)], f_nfyb_peak, lw=1.2)
draw_track(fx0, fx1, 1169, fspan, f_atac, RED, [(0, 141, RED_BASE, 2.2), (141, 267, PALE, 2), (267, 876, RED_BASE, 2.2)])
draw_track(fx0, fx1, 1230, fspan, f_ctrl_atac, DARK, [(0, 135, DARK, 1.5), (135, 170, PALE, 1.5), (170, 270, DARK, 1.5), (270, 292, GRAY, 1.5), (292, 876, DARK, 1.5)], lw=1.1)
draw_track(fx0, fx1, 1291, fspan, f_log2, GREEN, [(0, 876, GRAY, 1.8)], lw=1.1)
draw_track(fx0, fx1, 1352, fspan, f_rna, RED, [(0, 202, GRAY, 2), (202, 282, RED_BASE, 2.2), (282, 650, RED_BASE, 1), (650, 653, GRAY, 2), (653, 777, RED_BASE, 2.4), (780, 876, RED_BASE, 2.4)])
draw_track(fx0, fx1, 1441, fspan, f_ctrl_rna, DARK, [(0, 735, GRAY, 2), (735, 775, DARK, 2.2), (780, 876, DARK, 2.2)], line=True)

f_name_y = [1049, 1129, 1196, 1256, 1312, 1383]
for name, y, c in zip(track_names, f_name_y, name_col):
    ntext(1958, y, name, 24, color=c, ha="right", sx=0.74)
f_scale_xy = [(1045, 1051), (1051, 1093), (1040, 1117), (1054, 1158), (1041, 1188), (1056, 1222),
              (1054, 1249), (1055, 1284), (1050, 1312), (1056, 1347), (1051, 1377), (1054, 1430)]
for t, (x, y), c in zip(f_scale_names, f_scale_xy, scale_col):
    ntext(x, y, t, 24, color=c, sx=0.72)

ax = px_axes(fx0, 1445, fx1, 1465)
ax.axis("off")
ax.set_xlim(0, fspan)
ax.set_ylim(-10, 10)
ax.broken_barh([(f_cds[0], f_cds[1] - f_cds[0])], (-5, 10), color="black")
ax.broken_barh([(f_utr[0], f_utr[1] - f_utr[0])], (-7.5, 15), color="black")
ntext(1338, 1473, "3\u2019", 24)
ntext(1760, 1475, "5\u2019", 24)
ntext(1527, 1500, "JUN", 24)
page.plot([1836, 1956], [1473, 1473], color="#3a6fd0", lw=2.4)
ntext(1904, 1505, "1 kb", 24)

fig.savefig("out.png", dpi=100, facecolor="white")
